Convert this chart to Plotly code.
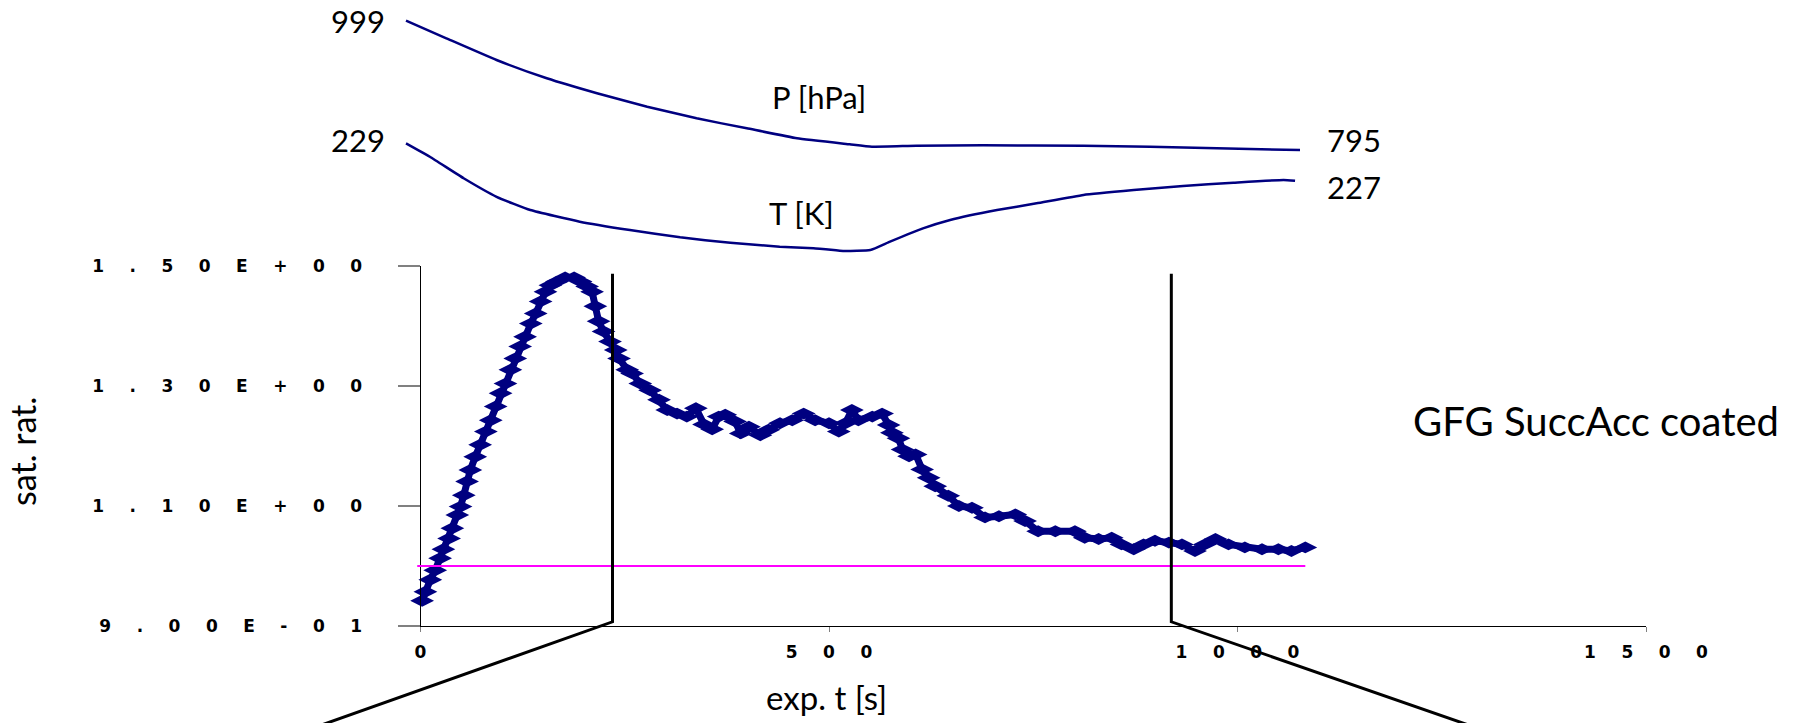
import plotly.graph_objects as go

W, H = 1799, 723
OFF = 0  # page body margin removed via post_script

# ---------------- data ----------------
t_sat = [2, 6, 12, 18, 24, 28, 35, 39, 45, 49, 53, 57, 61, 67, 73, 80, 86, 92, 98, 104,
         110, 116, 122, 128, 135, 141, 147, 153, 159, 167, 177, 188, 196, 204, 210, 214,
         218, 224, 232, 239, 243, 253, 259, 269, 281, 292, 302, 314, 326, 337, 347, 357,
         365, 373, 385, 392, 402, 416, 426, 440, 455, 469, 483, 500, 512, 520, 528, 536,
         553, 565, 573, 577, 585, 590, 598, 606, 614, 622, 630, 646, 659, 675, 691, 708,
         728, 740, 756, 777, 801, 813, 830, 846, 858, 873, 885, 899, 916, 932, 948, 960,
         973, 989, 1009, 1030, 1050, 1066, 1083]
sat = [0.942, 0.957, 0.977, 0.993, 1.013, 1.028, 1.046, 1.063, 1.085, 1.099, 1.118, 1.141,
       1.160, 1.182, 1.202, 1.224, 1.243, 1.266, 1.288, 1.304, 1.327, 1.346, 1.366, 1.382,
       1.404, 1.421, 1.441, 1.457, 1.468, 1.474, 1.481, 1.481, 1.474, 1.466, 1.457, 1.433,
       1.408, 1.391, 1.374, 1.360, 1.346, 1.327, 1.321, 1.304, 1.293, 1.277, 1.260, 1.254,
       1.249, 1.263, 1.236, 1.228, 1.249, 1.252, 1.241, 1.221, 1.232, 1.218, 1.227, 1.238,
       1.243, 1.254, 1.243, 1.238, 1.224, 1.238, 1.260, 1.243, 1.249, 1.254, 1.235, 1.222,
       1.213, 1.194, 1.183, 1.186, 1.161, 1.147, 1.133, 1.117, 1.100, 1.097, 1.081, 1.083,
       1.086, 1.075, 1.058, 1.058, 1.058, 1.047, 1.045, 1.047, 1.036, 1.028, 1.036, 1.042,
       1.039, 1.036, 1.025, 1.036, 1.045, 1.036, 1.031, 1.028, 1.028, 1.025, 1.031]

t_P = [0, 49, 110, 171, 232, 293, 353, 414, 475, 539, 566, 620, 701, 823, 904, 985, 1086]
P_hPa = [999, 971.2, 937.0, 908.1, 884.5, 863.3, 845.0, 829.2, 813.5, 804.0, 800.2,
         801.8, 802.4, 801.8, 800.2, 797.7, 795]

t_T = [0, 29, 70, 110, 151, 211, 272, 333, 394, 454, 495, 527, 533, 564, 588, 628, 661,
       718, 766, 823, 884, 944, 1005, 1066, 1080]
T_K = [229, 228.28, 227.13, 226.14, 225.43, 224.81, 224.36, 223.97, 223.68, 223.47, 223.39,
       223.26, 223.24, 223.29, 223.74, 224.45, 224.90, 225.43, 225.79, 226.24, 226.50,
       226.72, 226.89, 227.04, 227.0]

sat_ref = 1.0
mark_t = [235, 919]            # vertical marker lines (s)
mark_top, mark_bot = 1.487, 0.907
callout_end_t = [-289, 1454]   # ends of the callout connector lines (off the picture)
callout_end_v = 0.654

y_ticks = [0.9, 1.1, 1.3, 1.5]
x_ticks = [0, 500, 1000, 1500]
x_range = [0, 1500]
y_range = [0.9, 1.5]

# ---------------- layout geometry (screen pixels) ----------------
PL, PR, PT, PB = 420.5, 1646, 266, 626
PT_T0_PX, PT_T1_PX = 406, 1300          # P/T panel time mapping
P_A_PX, P_B_PX = 20.7, 150
T_A_PX, T_B_PX = 143.3, 180.7


def fx(px):
    return px - OFF


def fy(py):
    return py - OFF


def span(va, pa, vb, pb, p0, p1):
    s = (vb - va) / (pb - pa)
    return [va + (p0 - pa) * s, va + (p1 - pa) * s]


def xr(va, pa, vb, pb):
    return span(va, fx(pa), vb, fx(pb), 0, W)


def yr(va, pa, vb, pb):
    return span(va, fy(pa), vb, fy(pb), H, 0)


def px_x(px):
    return fx(px) / W


def px_y(py):
    return 1 - fy(py) / H


SEP = "\u2003\u2002"


def spread(s):
    return SEP.join(list(s))


FONT = "Lato"
NAVY = "#000080"

fig = go.Figure()

# saturation ratio
fig.add_trace(go.Scatter(
    x=t_sat, y=sat, mode="lines+markers", xaxis="x", yaxis="y",
    line=dict(color=NAVY, width=7),
    marker=dict(symbol="diamond-wide", size=17, color=NAVY),
    cliponaxis=False, showlegend=False, hoverinfo="skip"))

# saturation = 1 line
fig.add_trace(go.Scatter(
    x=[t_sat[0] - 6, t_sat[-1]], y=[sat_ref, sat_ref], mode="lines", xaxis="x3", yaxis="y4",
    line=dict(color="#FF00FF", width=2), showlegend=False, hoverinfo="skip"))

# P and T curves
fig.add_trace(go.Scatter(x=t_P, y=P_hPa, mode="lines", xaxis="x2", yaxis="y2",
                         line=dict(color=NAVY, width=2.5, shape="spline", smoothing=0.4),
                         showlegend=False, hoverinfo="skip"))
fig.add_trace(go.Scatter(x=t_T, y=T_K, mode="lines", xaxis="x2", yaxis="y3",
                         line=dict(color=NAVY, width=2.5, shape="spline", smoothing=0.4),
                         showlegend=False, hoverinfo="skip"))

# marker lines with callout connectors
for tm, te in zip(mark_t, callout_end_t):
    fig.add_trace(go.Scatter(x=[tm, tm, te], y=[mark_top, mark_bot, callout_end_v],
                             mode="lines", xaxis="x3", yaxis="y4",
                             line=dict(color="black", width=3),
                             showlegend=False, hoverinfo="skip"))

hidden = dict(visible=False, showgrid=False, zeroline=False, fixedrange=True)
tickfont = dict(family="DejaVu Sans", size=17, color="black", weight="bold")

fig.update_layout(
    width=W, height=H, template="none",
    margin=dict(l=0, r=0, t=0, b=0),
    paper_bgcolor="white", plot_bgcolor="rgba(0,0,0,0)",
    font=dict(family=FONT, color="black"),
    xaxis=dict(domain=[px_x(PL), px_x(PR)], range=x_range, anchor="y",
               showline=True, linecolor="black", linewidth=1, showgrid=False, zeroline=False,
               tickmode="array", tickvals=x_ticks, ticktext=[spread(str(v)) for v in x_ticks],
               ticks="outside", ticklen=5, tickcolor="#808080", tickwidth=1,
               ticklabelstandoff=6, automargin=False, tickfont=tickfont),
    yaxis=dict(domain=[px_y(PB), px_y(PT)], range=y_range, anchor="x",
               showline=True, linecolor="black", linewidth=1, showgrid=False, zeroline=False,
               tickmode="array", tickvals=y_ticks,
               ticktext=[spread(format(v, ".2E")) for v in y_ticks],
               ticks="outside", ticklen=22, tickcolor="#808080", tickwidth=1.5,
               ticklabelstandoff=32, automargin=False, tickfont=tickfont),
    xaxis2=dict(domain=[0, 1], anchor="y2", range=xr(0, PT_T0_PX, t_P[-1], PT_T1_PX), **hidden),
    yaxis2=dict(domain=[0, 1], anchor="x2", range=yr(P_hPa[0], P_A_PX, P_hPa[-1], P_B_PX), **hidden),
    yaxis3=dict(domain=[0, 1], anchor="x2", range=yr(T_K[0], T_A_PX, T_K[-1], T_B_PX), **hidden),
    xaxis3=dict(domain=[0, 1], anchor="y4", range=xr(x_range[0], PL, x_range[1], PR), **hidden),
    yaxis4=dict(domain=[0, 1], anchor="x3", range=yr(y_range[0], PB, y_range[1], PT), **hidden),
)

LBL = 31
ann = [
    dict(x=t_P[0], y=P_hPa[0], xref="x2", yref="y2", text=f"{P_hPa[0]:.0f}",
         xanchor="right", yanchor="middle", xshift=-20, yshift=0),
    dict(x=t_P[-1], y=P_hPa[-1], xref="x2", yref="y2", text=f"{P_hPa[-1]:.0f}",
         xanchor="left", yanchor="middle", xshift=26, yshift=10),
    dict(x=t_T[0], y=T_K[0], xref="x2", yref="y3", text=f"{T_K[0]:.0f}",
         xanchor="right", yanchor="middle", xshift=-20, yshift=3),
    dict(x=t_T[-1], y=T_K[-1], xref="x2", yref="y3", text=f"{T_K[-1]:.0f}",
         xanchor="left", yanchor="middle", xshift=31, yshift=-6),
    dict(x=px_x(819), y=px_y(97), xref="paper", yref="paper", text="P [hPa]",
         xanchor="center", yanchor="middle"),
    dict(x=px_x(801.5), y=px_y(213), xref="paper", yref="paper", text="T [K]",
         xanchor="center", yanchor="middle"),
    dict(x=px_x(1596), y=px_y(421), xref="paper", yref="paper", text="GFG SuccAcc coated",
         xanchor="center", yanchor="middle", font=dict(size=40)),
    dict(x=px_x(22), y=px_y(452), xref="paper", yref="paper", text="sat. rat.",
         xanchor="center", yanchor="middle", textangle=-90, font=dict(size=34)),
    dict(x=px_x(826), y=px_y(697), xref="paper", yref="paper", text="exp. t [s]",
         xanchor="center", yanchor="middle", font=dict(size=33)),
]
for a in ann:
    a.setdefault("font", dict(size=LBL))
    a["font"] = dict(family=FONT, color="black", **a["font"])
    a["showarrow"] = False
    a["borderpad"] = 0
fig.update_layout(annotations=ann)

fig.write_html("out.html", config={"displayModeBar": False},
               post_script="document.body.style.margin='0px';")
